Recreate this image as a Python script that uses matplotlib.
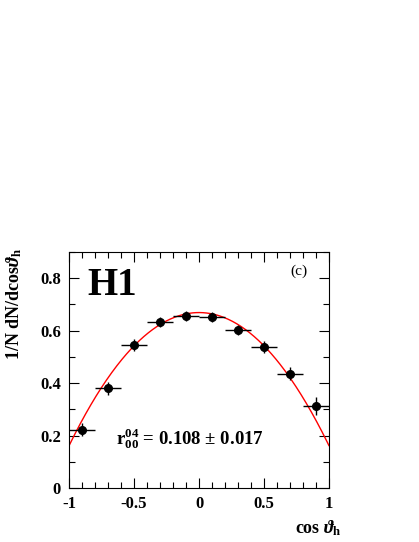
import numpy as np
import matplotlib
matplotlib.use("Agg")
import matplotlib.pyplot as plt
from matplotlib.ticker import MultipleLocator

plt.rcParams["font.family"] = "Liberation Serif"
plt.rcParams["font.weight"] = "bold"
plt.rcParams["mathtext.fontset"] = "custom"
plt.rcParams["mathtext.rm"] = "Liberation Serif:bold"
plt.rcParams["mathtext.it"] = "Liberation Serif:italic:bold"
plt.rcParams["mathtext.bf"] = "Liberation Serif:bold"

# measured distribution
cos_theta = [-0.9, -0.7, -0.5, -0.3, -0.1, 0.1, 0.3, 0.5, 0.7, 0.9]
values = [0.222, 0.381, 0.546, 0.633, 0.656, 0.652, 0.603, 0.537, 0.435, 0.312]
errors = [0.025, 0.025, 0.022, 0.018, 0.018, 0.018, 0.020, 0.022, 0.025, 0.035]
bin_half_width = 0.1

# fit result
r04 = 0.108

fig = plt.figure(figsize=(4.19, 5.42), dpi=100)
ax = fig.add_axes([0.165, 0.0996, 0.62, 0.4355])

xs = np.linspace(-1, 1, 300)
fit = 0.75 * ((1 - r04) + (3 * r04 - 1) * xs ** 2)
ax.plot(xs, fit, color="red", lw=1.0)

ax.errorbar(cos_theta, values, yerr=errors, xerr=bin_half_width,
            fmt="o", color="black", ms=5.5, elinewidth=1.0, capsize=0)

ax.set_xlim(-1, 1)
ax.set_ylim(0, 0.9)
ax.xaxis.set_minor_locator(MultipleLocator(0.1))
ax.yaxis.set_minor_locator(MultipleLocator(0.1))
ax.set_xticks([-1, -0.5, 0, 0.5, 1])
ax.set_xticklabels(["-1", "-0.5", "0", "0.5", "1"])
ax.set_yticks([0, 0.2, 0.4, 0.6, 0.8])
ax.set_yticklabels(["0", "0.2", "0.4", "0.6", "0.8"])
ax.tick_params(which="both", direction="in", top=True, right=True, labelsize=12, pad=6)
ax.tick_params(which="major", length=7, width=0.8)
ax.tick_params(which="minor", length=4, width=0.8)
for spine in ax.spines.values():
    spine.set_linewidth(0.8)

ax.set_ylabel(r"1/N dN/dcos$\vartheta_{\rm h}$", fontsize=13, fontweight="bold")
ax.yaxis.set_label_coords(-0.173, 0.78)
ax.set_xlabel(r"cos $\vartheta_{\rm h}$", fontsize=13, fontweight="bold")
ax.xaxis.set_label_coords(1.05, -0.13)
ax.xaxis.label.set_horizontalalignment("right")

ax.text(0.07, 0.86, "H1", transform=ax.transAxes, fontsize=28,
        fontweight="bold", va="center", ha="left")
ax.text(0.85, 0.92, "(c)", transform=ax.transAxes, fontsize=11,
        fontweight="normal", va="center", ha="left")
ax.text(0.18, 0.21, r"r$_{00}^{04}$ = 0.108 $\pm$ 0.017", transform=ax.transAxes,
        fontsize=13.5, fontweight="bold", va="center", ha="left")

fig.savefig("out.png", dpi=100)
